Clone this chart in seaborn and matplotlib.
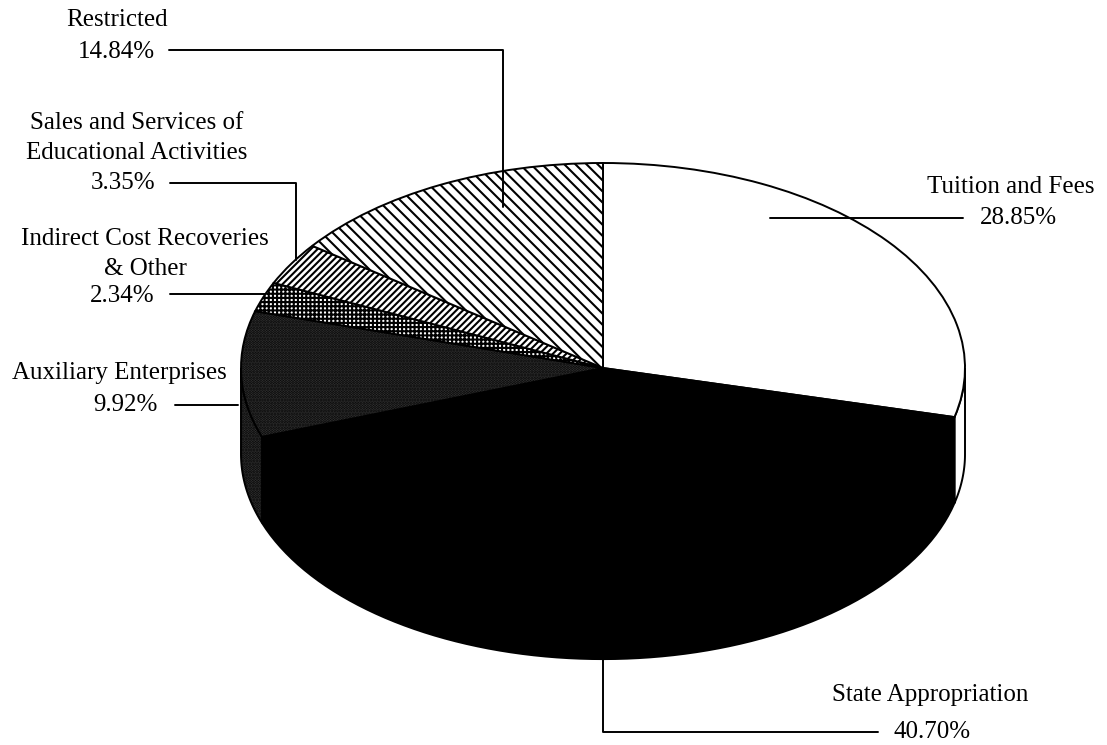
import numpy as np
import matplotlib
matplotlib.use("Agg")
import matplotlib.pyplot as plt
from matplotlib.patches import Polygon
import seaborn as sns

# revenue shares, clockwise from 12 o'clock
categories = ["Tuition and Fees", "State Appropriation", "Auxiliary Enterprises",
              "Indirect Cost Recoveries\n& Other",
              "Sales and Services of\nEducational Activities", "Restricted"]
shares = [28.85, 40.70, 9.92, 2.34, 3.35, 14.84]

faces = ["white", "black", "#3a3a3a", "white", "white", "white"]
hatches = [None, None, "......", "++++", "/////", "\\\\\\"]

sns.set_theme(style="white")
plt.rcParams["font.family"] = ["Liberation Serif", "DejaVu Serif"]
plt.rcParams["hatch.linewidth"] = 1.5

# pixel layout of the reference
W, H = 1107, 745
CX, CY, RX, RY = 603, 368, 362, 205
DEPTH = 0.42


def px(x, y):
    return (x - CX) / RX, (CY - y) / RY


fig = plt.figure(figsize=(W / 100, H / 100), dpi=100)
ax = fig.add_axes([0, 0, 1, 1])

wedges, _ = ax.pie(shares, startangle=90, counterclock=False, radius=1,
                   center=(0, 0), colors=faces,
                   wedgeprops=dict(edgecolor="black", linewidth=1.4, zorder=3))
for w, h in zip(wedges, hatches):
    if h:
        w.set_hatch(h)

# side walls of the front half
for w, fc, h in zip(wedges, faces, hatches):
    t1, t2 = w.theta1, w.theta2
    for k in (-1, 0, 1):
        lo = max(t1, -180 + 360 * k)
        hi = min(t2, 0 + 360 * k)
        if hi <= lo:
            continue
        t = np.radians(np.linspace(lo, hi, 80))
        top = np.column_stack([np.cos(t), np.sin(t)])
        bot = np.column_stack([np.cos(t), np.sin(t) - DEPTH])[::-1]
        poly = Polygon(np.vstack([top, bot]), closed=True, facecolor=fc,
                       edgecolor="black", linewidth=1.4, hatch=h, zorder=2)
        ax.add_patch(poly)

ax.set_aspect("auto")
ax.set_xlim(-CX / RX, (W - CX) / RX)
ax.set_ylim((CY - H) / RY, CY / RY)
ax.axis("off")

# leader lines (reference pixels)
leaders = [
    [(770, 218), (963, 218)],
    [(603, 660), (603, 732), (878, 732)],
    [(175, 405), (238, 405)],
    [(170, 294), (265, 294)],
    [(170, 183), (296, 183), (296, 260)],
    [(169, 50), (503, 50), (503, 207)],
]
for pts in leaders:
    xy = np.array([px(*p) for p in pts])
    ax.plot(xy[:, 0], xy[:, 1], color="black", lw=1.4, zorder=4)

name_pos = [(1011, 187), (930, 695), (119, 373), (145, 254), (137, 138), (117, 20)]
pct_pos = [(1018, 218), (932, 732), (125, 405), (122, 296), (123, 183), (116, 52)]
for name, val, npos, ppos in zip(categories, shares, name_pos, pct_pos):
    ax.text(*px(*npos), name, ha="center", va="center", fontsize=18,
            linespacing=1.45, color="black")
    ax.text(*px(*ppos), f"{val:.2f}%", ha="center", va="center", fontsize=18,
            color="black")

fig.savefig("out.png", dpi=100, facecolor="white")
